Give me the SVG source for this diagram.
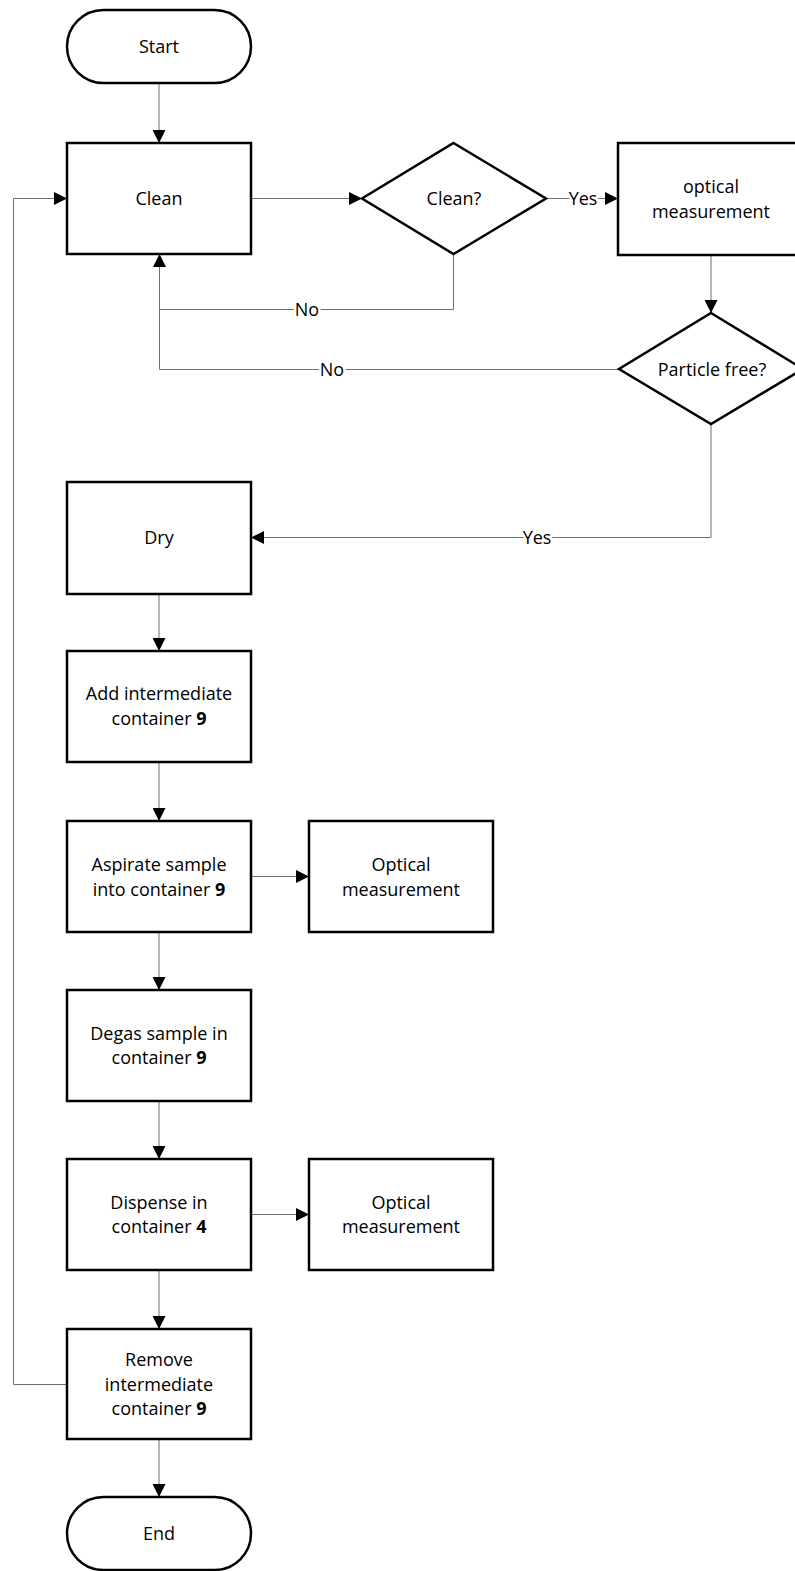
<svg xmlns="http://www.w3.org/2000/svg" width="795" height="1571" viewBox="0 0 795 1571">
<defs>
<marker id="arr" markerUnits="userSpaceOnUse" viewBox="0 0 12 12" refX="12" refY="6" markerWidth="13" markerHeight="13" orient="auto">
<path d="M0,0 L12,6 L0,12 z" fill="#000"/>
</marker>
<style>
.n{fill:#fff;stroke:#000;stroke-width:2.5}
.t{font-family:"Open Sans","Liberation Sans",sans-serif;font-size:18px;fill:#000;text-anchor:middle}
.c{fill:none;stroke:#6e6e6e;stroke-width:1}
.a{marker-end:url(#arr)}
.l{font-family:"Open Sans","Liberation Sans",sans-serif;font-size:18px;fill:#000;text-anchor:middle;stroke:#fff;stroke-width:5;paint-order:stroke}
</style>
</defs>
<rect width="795" height="1571" fill="#fff"/>
<g id="connectors">
<path class="c a" d="M159,83 V143"/>
<path class="c a" d="M251,198.5 H362"/>
<path class="c a" d="M546,198.5 H618"/>
<path class="c a" d="M453.5,254 V309.5 H159.5 V254"/>
<path class="c a" d="M711,255 V313"/>
<path class="c" d="M619,369.5 H159.5 V300"/>
<path class="c a" d="M711,424 V537.5 H251"/>
<path class="c a" d="M159,594 V651"/>
<path class="c a" d="M159,762 V821"/>
<path class="c a" d="M251,876.5 H309"/>
<path class="c a" d="M159,932 V990"/>
<path class="c a" d="M159,1101 V1159"/>
<path class="c a" d="M251,1214.5 H309"/>
<path class="c a" d="M159,1270 V1329"/>
<path class="c a" d="M67,1384.5 H13.5 V198.5 H67"/>
<path class="c a" d="M159,1439 V1497"/>
<text class="l" x="583" y="205">Yes</text>
<text class="l" x="307" y="316">No</text>
<text class="l" x="332" y="376">No</text>
<text class="l" x="537" y="544">Yes</text>
</g>
<g id="start">
<rect class="n" x="67" y="10" width="184" height="73" rx="36.5"/>
<text class="t" x="159" y="53">Start</text>
</g>
<g id="clean">
<rect class="n" x="67" y="143" width="184" height="111"/>
<text class="t" x="159" y="205">Clean</text>
</g>
<g id="clean-q">
<polygon class="n" points="453.5,143 546,198.5 453.5,254 362,198.5"/>
<text class="t" x="454" y="205">Clean?</text>
</g>
<g id="optical1">
<rect class="n" x="618" y="143" width="186" height="112"/>
<text class="t" x="711" y="193">optical</text>
<text class="t" x="711" y="218">measurement</text>
</g>
<g id="particle-q">
<polygon class="n" points="711,313 803,369 711,424 619,369"/>
<text class="t" x="712" y="375.5">Particle free?</text>
</g>
<g id="dry">
<rect class="n" x="67" y="482" width="184" height="112"/>
<text class="t" x="159" y="544">Dry</text>
</g>
<g id="add">
<rect class="n" x="67" y="651" width="184" height="111"/>
<text class="t" x="159" y="700">Add intermediate</text>
<text class="t" x="159" y="725">container <tspan font-weight="bold">9</tspan></text>
</g>
<g id="aspirate">
<rect class="n" x="67" y="821" width="184" height="111"/>
<text class="t" x="159" y="871">Aspirate sample</text>
<text class="t" x="159" y="895.5">into container <tspan font-weight="bold">9</tspan></text>
</g>
<g id="optical2">
<rect class="n" x="309" y="821" width="184" height="111"/>
<text class="t" x="401" y="871">Optical</text>
<text class="t" x="401" y="895.5">measurement</text>
</g>
<g id="degas">
<rect class="n" x="67" y="990" width="184" height="111"/>
<text class="t" x="159" y="1039.5">Degas sample in</text>
<text class="t" x="159" y="1064">container <tspan font-weight="bold">9</tspan></text>
</g>
<g id="dispense">
<rect class="n" x="67" y="1159" width="184" height="111"/>
<text class="t" x="159" y="1208.5">Dispense in</text>
<text class="t" x="159" y="1233">container <tspan font-weight="bold">4</tspan></text>
</g>
<g id="optical3">
<rect class="n" x="309" y="1159" width="184" height="111"/>
<text class="t" x="401" y="1208.5">Optical</text>
<text class="t" x="401" y="1233">measurement</text>
</g>
<g id="remove">
<rect class="n" x="67" y="1329" width="184" height="110"/>
<text class="t" x="159" y="1366">Remove</text>
<text class="t" x="159" y="1390.5">intermediate</text>
<text class="t" x="159" y="1415">container <tspan font-weight="bold">9</tspan></text>
</g>
<g id="end">
<rect class="n" x="67" y="1497" width="184" height="73" rx="36.5"/>
<text class="t" x="159" y="1540">End</text>
</g>
</svg>
